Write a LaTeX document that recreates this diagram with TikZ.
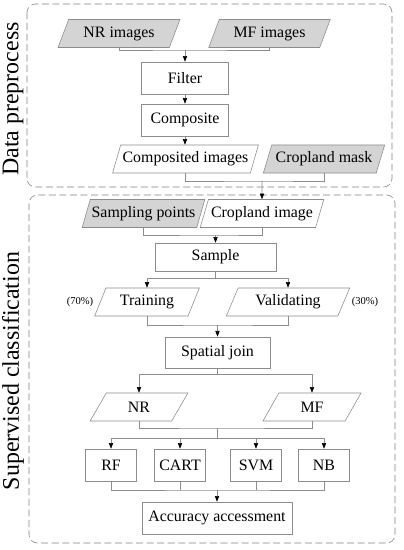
\documentclass[tikz,border=0pt]{standalone}
\usepackage{fontspec}
\setmainfont{Liberation Serif}
\usetikzlibrary{arrows.meta,shapes.geometric}

\begin{document}
\begin{tikzpicture}[
  x=0.025cm, y=-0.025cm,
  box/.style={draw=black!45, fill=white, minimum height=0.8cm, inner sep=1pt, font=\fontsize{11.3}{13}\selectfont},
  io/.style={trapezium, trapezium left angle=65, trapezium right angle=115, trapezium stretches=true,
    draw=black!45, minimum height=0.7cm, inner sep=1pt, font=\fontsize{11.3}{13}\selectfont},
  inp/.style={io, fill=black!17},
  outp/.style={io, fill=white},
  grp/.style={draw=black!50, dash pattern=on 5pt off 2.5pt, rounded corners=6pt},
  side/.style={rotate=90, font=\fontsize{17}{20}\selectfont},
  pct/.style={font=\fontsize{7.5}{9}\selectfont},
  line/.style={draw=black!45},
  arr/.style={line, -{Triangle[length=4pt,width=3pt,color=black]}}
]
  \useasboundingbox (0,0) rectangle (403,550);

  % groups
  \draw[grp] (27,4) rectangle (392,187);
  \draw[grp] (29,195) rectangle (395,543);
  \node[side] (lpre) at (13,99) {Data preprocess};
  \node[side] (lcls) at (13,371) {Supervised classification};

  % data preprocess
  \node[inp, minimum width=3.05cm] (nri) at (119,33.5) {NR images};
  \node[inp, minimum width=3.05cm] (mfi) at (269.5,33.5) {MF images};
  \node[box, minimum width=2.175cm] (filter) at (185,78) {Filter};
  \node[box, minimum width=2.175cm] (comp) at (185,120) {Composite};
  \node[outp, minimum width=3.65cm] (compimg) at (185.5,159) {Composited images};
  \node[inp, minimum width=3.05cm] (mask) at (324,159) {Cropland mask};

  % classification
  \node[inp, minimum width=3.025cm] (samp) at (143.5,213.5) {Sampling points};
  \node[outp, minimum width=3.1cm] (cropimg) at (262,213.5) {Cropland image};
  \node[box, minimum width=3.025cm, minimum height=0.7cm] (sample) at (215.5,257) {Sample};
  \node[outp, minimum width=2.625cm] (train) at (147,302) {Training};
  \node[outp, minimum width=3.1cm] (valid) at (288,302) {Validating};
  \node[pct] (p70) at (80,302) {(70\%)};
  \node[pct] (p30) at (365,302) {(30\%)};
  \node[box, minimum width=2.625cm, minimum height=0.78cm] (join) at (217.5,352.5) {Spatial join};
  \node[outp, minimum width=2.45cm] (nr) at (139,407) {NR};
  \node[outp, minimum width=2.45cm] (mf) at (312,407) {MF};
  \node[box, minimum width=1.275cm] (rf) at (111,465) {RF};
  \node[box, minimum width=1.275cm] (cart) at (180,465) {CART};
  \node[box, minimum width=1.275cm] (svm) at (256,465) {SVM};
  \node[box, minimum width=1.275cm] (nb) at (324,465) {NB};
  \node[box, minimum width=3.75cm] (acc) at (217,518) {Accuracy accessment};

  % connectors
  \coordinate (j1) at (185,50);
  \draw[line] (nri.south) |- (j1) -| (mfi.south);
  \draw[arr] (j1) -- (filter);
  \draw[arr] (filter) -- (comp);
  \draw[arr] (comp.south) -- (comp.south |- compimg.north);

  \coordinate (j2) at (262,181);
  \draw[line] (compimg.south) |- (j2) -| (mask.south);
  \draw[arr] (j2) -- (cropimg);

  \coordinate (j3) at (215.5,235);
  \draw[line] (samp.south) |- (j3) -| (cropimg.south);
  \draw[arr] (j3) -- (sample);

  \coordinate (j4) at (215.5,278);
  \draw[line] (sample) -- (j4);
  \draw[arr] (j4) -| (train.north);
  \draw[arr] (j4) -| (valid.north);

  \coordinate (j5) at (217.5,325);
  \draw[line] (train.south) |- (j5) -| (valid.south);
  \draw[arr] (j5) -- (join);

  \coordinate (j6) at (217.5,374);
  \draw[line] (join) -- (j6);
  \draw[arr] (j6) -| (nr.north);
  \draw[arr] (j6) -| (mf.north);

  \coordinate (j7) at (217.5,428);
  \coordinate (j8) at (217.5,438);
  \draw[line] (nr.south) |- (j7) -| (mf.south);
  \draw[line] (j7) -- (j8);
  \draw[arr] (j8) -| (rf.north);
  \draw[arr] (j8) -| (cart.north);
  \draw[arr] (j8) -| (svm.north);
  \draw[arr] (j8) -| (nb.north);

  \coordinate (j9) at (217,490);
  \draw[line] (rf.south) |- (j9) -| (nb.south);
  \draw[line] (cart.south) -- (cart.south |- j9);
  \draw[line] (svm.south) -- (svm.south |- j9);
  \draw[arr] (j9) -- (acc);
\end{tikzpicture}
\end{document}
